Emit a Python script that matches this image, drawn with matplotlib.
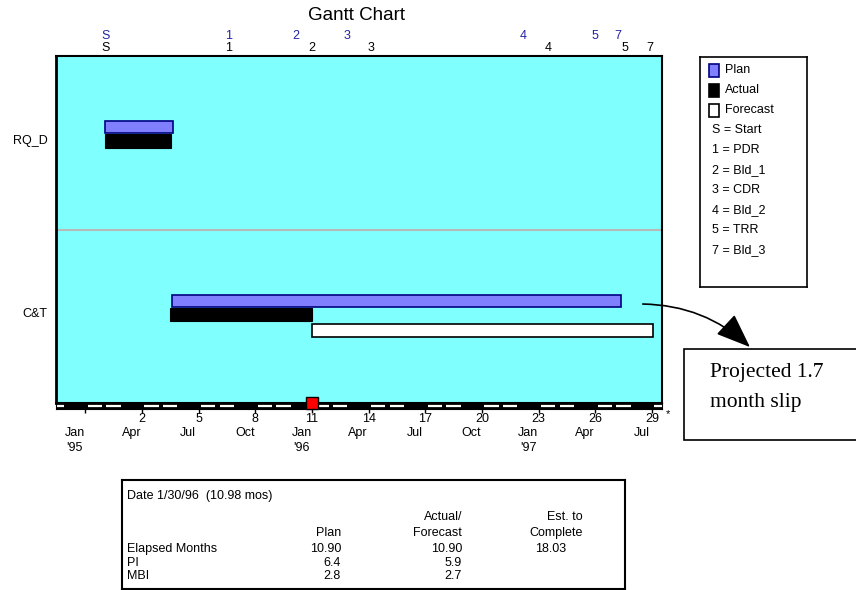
import matplotlib
matplotlib.use('Agg')
import matplotlib.pyplot as plt
from matplotlib.patches import Rectangle, FancyArrowPatch

plt.rcParams['font.family'] = ['Liberation Sans', 'DejaVu Sans']
plt.rcParams['font.size'] = 9

# schedule in elapsed months (month 0 = Feb '95)
tasks = ['RQ_D', 'C&T']
plan_start = [0.05, 3.6]
plan_end = [3.65, 27.35]
actual_start = [0.05, 3.5]
actual_end = [3.55, 11.0]
forecast_start = [None, 11.0]
forecast_end = [None, 29.05]
status_month = 10.98

milestone_keys = ['S', '1', '2', '3', '4', '5', '7']
milestone_names = ['Start', 'PDR', 'Bld_1', 'CDR', 'Bld_2', 'TRR', 'Bld_3']
milestone_plan = [0.05, 6.6, 10.15, 12.85, 22.2, 26.0, 27.2]
milestone_fcst = [0.05, 6.6, 10.97, 14.1, 23.5, 27.55, 28.9]

quarter_ticks = [-1, 2, 5, 8, 11, 14, 17, 20, 23, 26, 29]
quarter_months = ['Jan', 'Apr', 'Jul', 'Oct'] * 2 + ['Jan', 'Apr', 'Jul']
quarter_years = ["'95", '', '', '', "'96", '', '', '', "'97", '', '']

summary_rows = ['Elapsed Months', 'PI', 'MBI']
summary_plan = ['10.90', '6.4', '2.8']
summary_actual = ['10.90', '5.9', '2.7']
summary_to_go = ['18.03', '', '']

PLAN_FACE = '#8080ff'
PLAN_EDGE = '#000080'
MS_BLUE = '#2323a0'

W, H = 856, 590
fig = plt.figure(figsize=(W / 100, H / 100), dpi=100)


def box(l, t, r, b):
    return [l / W, 1 - b / H, (r - l) / W, (b - t) / H]


def fx(x):
    return x / W


def fy(y):
    return 1 - y / H


xmin, xmax = -2.55, 29.53

# main gantt area
ax = fig.add_axes(box(56, 56, 662, 403))
ax.set_facecolor('#80ffff')
ax.set_xlim(xmin, xmax)
ax.set_ylim(2, 0)
for i in range(len(tasks)):
    ax.barh(i + 0.375, plan_end[i] - plan_start[i], height=0.07, left=plan_start[i],
            align='edge', color=PLAN_FACE, edgecolor=PLAN_EDGE, lw=1.2)
    ax.barh(i + 0.45, actual_end[i] - actual_start[i], height=0.08, left=actual_start[i],
            align='edge', color='black', edgecolor='black', lw=0.8)
    if forecast_start[i] is not None:
        ax.barh(i + 0.545, forecast_end[i] - forecast_start[i], height=0.072,
                left=forecast_start[i], align='edge', color='white',
                edgecolor='black', lw=1.2)
ax.axhline(1, color='#b8b8b8', lw=1.5)
ax.set_xticks([])
ax.set_yticks([i + 0.48 for i in range(len(tasks))])
ax.set_yticklabels(tasks)
ax.tick_params(axis='y', length=0, pad=6)
for s in ax.spines.values():
    s.set_linewidth(1.5)
ax.spines['left'].set_linewidth(2)

for m, k in zip(milestone_plan, milestone_keys):
    ax.annotate(k, (m, 1), xycoords=('data', 'axes fraction'), xytext=(0, 14.4),
                textcoords='offset points', ha='center', va='center', color=MS_BLUE)
for m, k in zip(milestone_fcst, milestone_keys):
    ax.annotate(k, (m, 1), xycoords=('data', 'axes fraction'), xytext=(0, 5.8),
                textcoords='offset points', ha='center', va='center', color='black')

# month strip under the chart
axt = fig.add_axes(box(56, 403, 662, 409))
axt.set_facecolor('black')
axt.set_xlim(xmin, xmax)
axt.set_ylim(0, 1)
axt.set_yticks([])
for m in range(-3, 30):
    if m % 3 != 1:
        axt.hlines(0.45, m + 0.12, m + 0.88, color='white', lw=1.6)
axt.set_xticks(quarter_ticks)
axt.set_xticklabels([])
axt.tick_params(axis='x', length=3, width=1)
for t, mon, yr in zip(quarter_ticks, quarter_months, quarter_years):
    if t > 0:
        axt.annotate(str(t), (t, 0), xycoords=('data', 'axes fraction'), xytext=(0, -7.5),
                     textcoords='offset points', ha='center', va='center')
    axt.annotate(mon, (t - 0.55, 0), xycoords=('data', 'axes fraction'), xytext=(0, -17.5),
                 textcoords='offset points', ha='center', va='center')
    if yr:
        axt.annotate(yr, (t - 0.55, 0), xycoords=('data', 'axes fraction'), xytext=(0, -28),
                     textcoords='offset points', ha='center', va='center')
# status date marker sits on top of the strip
axt.plot([status_month], [1], marker='s', ms=8, mfc='red', mec='black', mew=1,
         clip_on=False, zorder=10)
fig.text(fx(668), fy(414), '*', ha='center', va='center', fontsize=8)

fig.text(fx(357), fy(16), 'Gantt Chart', ha='center', va='center', fontsize=13.5)

# legend box
lg = fig.add_axes(box(700, 57, 807, 287))
lg.set_xlim(700, 807)
lg.set_ylim(287, 57)
lg.set_xticks([])
lg.set_yticks([])
for s in lg.spines.values():
    s.set_linewidth(1.2)
swatches = [('Plan', PLAN_FACE, PLAN_EDGE), ('Actual', 'black', 'black'),
            ('Forecast', 'white', 'black')]
y = 70
for name, fc, ec in swatches:
    lg.add_patch(Rectangle((709, y - 6.5), 10, 13, facecolor=fc, edgecolor=ec, lw=1.2))
    lg.text(725, y, name, va='center')
    y += 20
for k, name in zip(milestone_keys, milestone_names):
    lg.text(712, y, f'{k} = {name}', va='center')
    y += 20

# slip call-out
fig.add_artist(FancyArrowPatch((fx(640), fy(304)), (fx(752), fy(349)),
                               transform=fig.transFigure, connectionstyle='arc3,rad=-0.2',
                               arrowstyle='-|>,head_length=0.9,head_width=0.35',
                               mutation_scale=24, lw=1.2, color='black'))
fig.add_artist(Rectangle((fx(684), fy(440)), fx(870) - fx(684), (440 - 349) / H,
                         transform=fig.transFigure, facecolor='white', edgecolor='black',
                         lw=1.2))
fig.text(fx(710), fy(373), 'Projected 1.7', family='Liberation Serif', fontsize=15.5,
         va='center')
fig.text(fx(710), fy(403), 'month slip', family='Liberation Serif', fontsize=15.5,
         va='center')

# status summary table
tb = fig.add_axes(box(122, 480, 625, 589))
tb.set_xlim(122, 625)
tb.set_ylim(589, 480)
tb.set_xticks([])
tb.set_yticks([])
for s in tb.spines.values():
    s.set_linewidth(1.5)
tb.text(127, 496, 'Date 1/30/96  (10.98 mos)', va='center')
tb.text(462, 517, 'Actual/', ha='right', va='center')
tb.text(583, 517, 'Est. to', ha='right', va='center')
tb.text(341, 533, 'Plan', ha='right', va='center')
tb.text(462, 533, 'Forecast', ha='right', va='center')
tb.text(583, 533, 'Complete', ha='right', va='center')
y = 549
for name, p, a, r in zip(summary_rows, summary_plan, summary_actual, summary_to_go):
    tb.text(127, y, name, va='center')
    tb.text(341, y, p, ha='right', va='center')
    tb.text(462, y, a, ha='right', va='center')
    tb.text(566, y, r, ha='right', va='center')
    y += 13.5

fig.savefig('out.png', dpi=100)
